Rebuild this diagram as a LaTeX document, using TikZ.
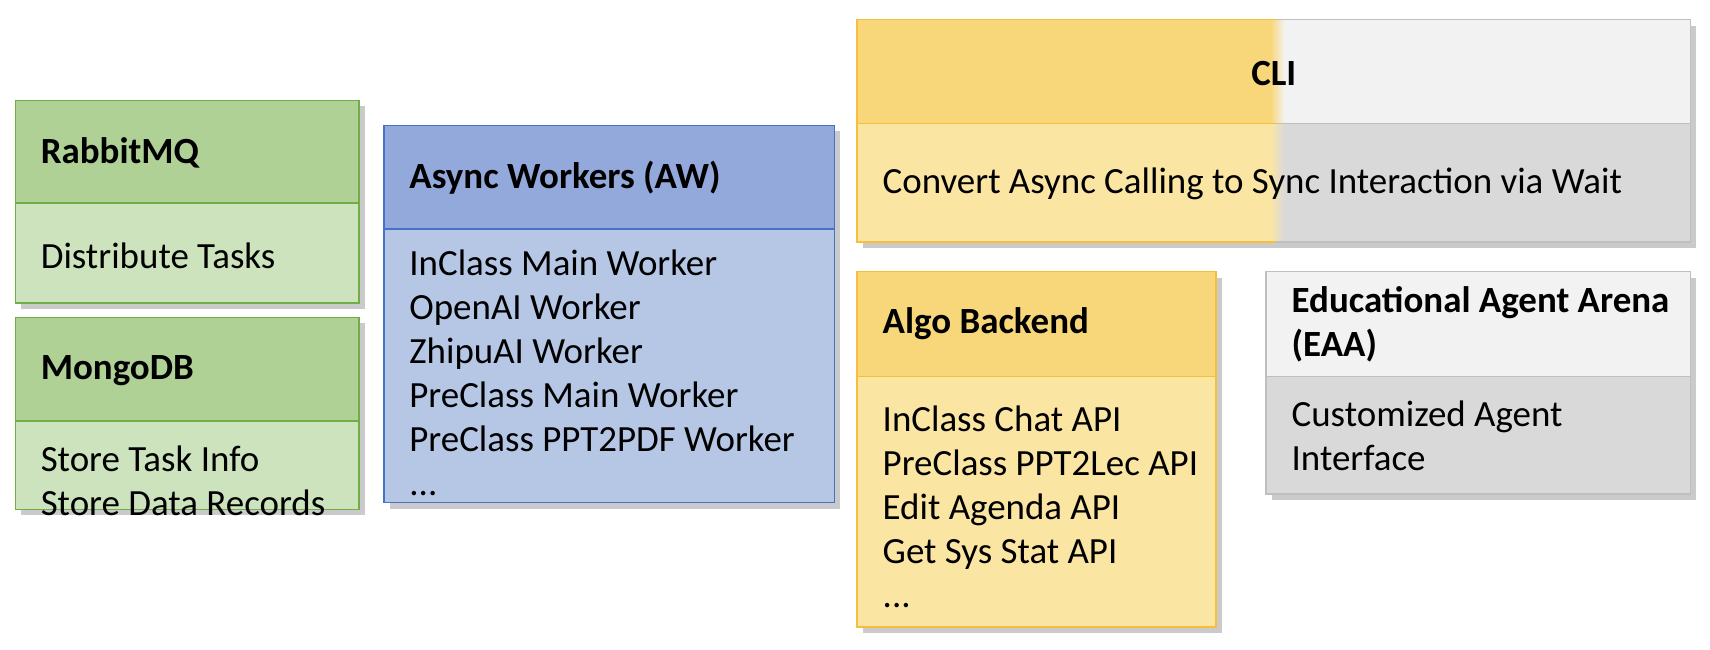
\documentclass[tikz,border=0pt]{standalone}
\usepackage{fontspec}
\setmainfont{Carlito}
\usetikzlibrary{shadows}
\definecolor{grnhead}{HTML}{B0D196}
\definecolor{grnbody}{HTML}{CDE3BD}
\definecolor{grnline}{HTML}{70AD47}
\definecolor{bluhead}{HTML}{93A9DB}
\definecolor{blubody}{HTML}{B6C7E6}
\definecolor{bluline}{HTML}{4472C4}
\definecolor{ylwhead}{HTML}{F7D779}
\definecolor{ylwbody}{HTML}{FAE5A3}
\definecolor{ylwline}{HTML}{F5BE3C}
\definecolor{gryhead}{HTML}{F2F2F2}
\definecolor{grybody}{HTML}{D9D9D9}
\definecolor{gryline}{HTML}{BFBFBF}
\tikzset{
  shd/.style={drop shadow={shadow xshift=0.6mm,shadow yshift=-0.6mm,fill=black!35,opacity=0.6}},
  title/.style={anchor=west,font=\fontsize{10.5}{12.5}\selectfont\bfseries,align=left},
  body/.style={anchor=west,font=\fontsize{10.5}{12.5}\selectfont,align=left},
}
\begin{document}
\begin{tikzpicture}[x=0.0109cm,y=-0.0109cm]
\useasboundingbox (0,0) rectangle (1568,596);
% green cards
\filldraw[grnline,fill=grnbody,shd] (14,92) rectangle (329,278);
\filldraw[grnline,fill=grnhead] (14,92) rectangle (329,186);
\filldraw[grnline,fill=grnbody,shd] (14,291) rectangle (329,467);
\filldraw[grnline,fill=grnhead] (14,291) rectangle (329,386);
\node[title] (rmq) at (26,140) {RabbitMQ};
\node[body] (rmqtext) at (26,235) {Distribute Tasks};
\node[title] (mdb) at (26,340) {MongoDB};
\node[body] (mdbtext) at (26,441) {Store Task Info\\Store Data Records};
% async workers
\filldraw[bluline,fill=blubody,shd] (352,115) rectangle (765,461);
\filldraw[bluline,fill=bluhead] (352,115) rectangle (765,210);
\node[title] (aw) at (364,163) {Async Workers (AW)};
\node[body,anchor=north west] (awtext) at (364,218) {InClass Main Worker\\OpenAI Worker\\ZhipuAI Worker\\PreClass Main Worker\\PreClass PPT2PDF Worker\\...};
% CLI
\fill[grybody,shd] (786,18) rectangle (1550,222);
\fill[ylwhead] (786,18) rectangle (1165,113);
\fill[ylwbody] (786,113) rectangle (1165,222);
\shade[left color=ylwhead,right color=gryhead] (1165,18) rectangle (1178,113);
\shade[left color=ylwbody,right color=grybody] (1165,113) rectangle (1178,222);
\fill[gryhead] (1178,18) rectangle (1550,113);
\draw[ylwline] (1170,18) -- (786,18) -- (786,222) -- (1170,222);
\draw[gryline] (1170,18) -- (1550,18) -- (1550,222) -- (1170,222);
\draw[ylwline] (786,113) -- (1170,113);
\draw[gryline] (1170,113) -- (1550,113);
\node[title,anchor=center] (cli) at (1168,67) {CLI};
\node[body] (clitext) at (798,169) {Convert Async Calling to Sync Interaction via Wait};
% algo backend
\filldraw[ylwline,fill=ylwbody,shd] (786,249) rectangle (1115,575);
\filldraw[ylwline,fill=ylwhead] (786,249) rectangle (1115,345);
\node[title] (algo) at (798,297) {Algo Backend};
\node[body,anchor=north west] (algotext) at (798,361) {InClass Chat API\\PreClass PPT2Lec API\\Edit Agenda API\\Get Sys Stat API\\...};
% EAA
\filldraw[gryline,fill=grybody,shd] (1161,249) rectangle (1550,453);
\filldraw[gryline,fill=gryhead] (1161,249) rectangle (1550,345);
\node[title] (eaa) at (1173,297) {Educational Agent Arena\\(EAA)};
\node[body] (eaatext) at (1173,400) {Customized Agent\\Interface};
\end{tikzpicture}
\end{document}
